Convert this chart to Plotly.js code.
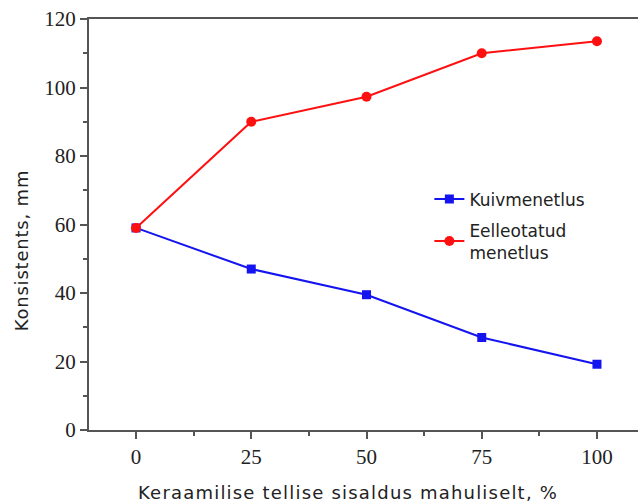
<!DOCTYPE html>
<html>
<head>
<meta charset="utf-8">
<script src="https://cdn.plot.ly/plotly-3.0.1.min.js"></script>
<style>
  html, body { margin: 0; padding: 0; background: #fff; }
  #chart { width: 638px; height: 504px; }
</style>
</head>
<body>
<div id="chart"></div>
<script>
// Brick content by volume, %
const brickShare = [0, 25, 50, 75, 100];
// Consistency (mm) for the two mixing methods
const dryMethod = [59, 47, 39.5, 27, 19.2];
const presoakedMethod = [59, 90, 97.3, 110, 113.5];
const seriesNames = ['Kuivmenetlus', 'Eelleotatud<br>menetlus'];
const xTicks = [0, 25, 50, 75, 100];
const yTicks = [0, 20, 40, 60, 80, 100, 120];
const xTitle = 'Keraamilise tellise sisaldus mahuliselt, %';
const yTitle = 'Konsistents, mm';

const axisColor = '#555555';
const tickFont = { family: 'Liberation Serif, Times New Roman, serif', size: 21, color: '#222' };
const titleFont = { family: 'DejaVu Sans, Verdana, sans-serif', size: 18, color: '#222' };

// spaced-out lettering for the axis captions
const tracked = (txt, px) => '<span style="letter-spacing:' + px + 'px">' + txt + '</span>';

const traces = [
  {
    x: brickShare, y: dryMethod, name: seriesNames[0], legendgroup: 'dry',
    type: 'scatter', mode: 'lines+markers',
    line: { color: '#1414f0', width: 2 },
    marker: { color: '#1414f0', symbol: 'square', size: 9 }
  },
  {
    x: brickShare, y: presoakedMethod, name: seriesNames[1], legendgroup: 'soaked',
    type: 'scatter', mode: 'lines+markers',
    line: { color: '#ff1010', width: 2 },
    marker: { color: '#ff1010', symbol: 'circle', size: 10 }
  }
];

const layout = {
  width: 638, height: 504,
  margin: { l: 89, r: 0, t: 19, b: 74 },
  paper_bgcolor: '#fff', plot_bgcolor: '#fff',
  showlegend: true,
  legend: {
    x: 0.62, y: 0.605, xanchor: 'left', yanchor: 'top',
    font: { family: 'DejaVu Sans, Verdana, sans-serif', size: 17, color: '#222' },
    bgcolor: 'rgba(0,0,0,0)', tracegroupgap: 6
  },
  xaxis: {
    range: [-10.2, 108.9],
    tickvals: xTicks, ticktext: xTicks.map(String),
    ticks: 'outside', ticklen: 7, tickwidth: 2, tickcolor: axisColor,
    minor: { dtick: 12.5, tick0: 12.5, ticks: 'outside', ticklen: 4, tickwidth: 2, tickcolor: axisColor },
    showline: true, linecolor: axisColor, linewidth: 2, mirror: true,
    showgrid: false, zeroline: false,
    tickfont: tickFont
  },
  yaxis: {
    range: [0, 120],
    tickvals: yTicks, ticktext: yTicks.map(String),
    ticks: 'outside', ticklen: 7, tickwidth: 2, tickcolor: axisColor,
    minor: { dtick: 20, tick0: 10, ticks: 'outside', ticklen: 4, tickwidth: 2, tickcolor: axisColor },
    showline: true, linecolor: axisColor, linewidth: 2,
    showgrid: false, zeroline: false,
    tickfont: tickFont
  },
  annotations: [
    {
      text: tracked(xTitle, 1.2), xref: 'paper', yref: 'paper',
      x: 0.472, y: -0.153, xanchor: 'center', yanchor: 'middle',
      showarrow: false, font: titleFont
    },
    {
      text: tracked(yTitle, 0.8), xref: 'paper', yref: 'paper',
      x: -0.124, y: 0.437, xanchor: 'center', yanchor: 'middle',
      textangle: -90, showarrow: false, font: titleFont
    }
  ]
};

Plotly.newPlot('chart', traces, layout, { displayModeBar: false, staticPlot: true });
</script>
</body>
</html>
